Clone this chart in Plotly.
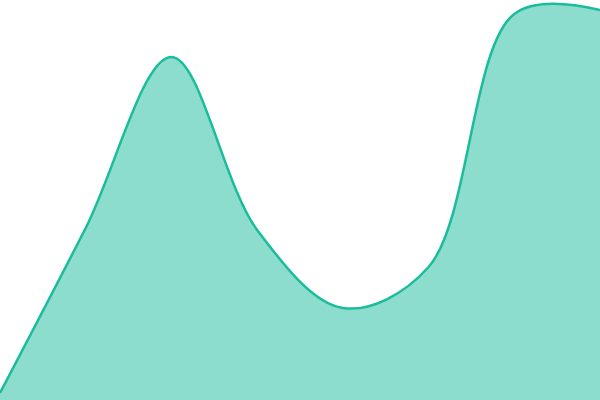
import plotly.graph_objects as go

# values (pixel height from the bottom)
x = [0, 1, 2, 3, 4, 5, 6, 7]
y = [7, 172, 343, 170, 92, 133, 386, 390]

fig = go.Figure()

fig.add_trace(go.Scatter(
    x=x, y=y, mode='lines', fill='tozeroy',
    line=dict(color='#1abc9c', width=2.5, shape='spline', smoothing=1),
    fillcolor='rgba(26, 188, 156, 0.5)',
    hoverinfo='skip'
))

fig.update_layout(
    width=600, height=400,
    margin=dict(l=0, r=0, t=0, b=0),
    plot_bgcolor='white', paper_bgcolor='white',
    showlegend=False,
    xaxis=dict(visible=False, range=[0, 7]),
    yaxis=dict(visible=False, range=[0, 400]),
)

# drop the page's default body margin so the chart sits edge to edge
fig.write_html("out.html", config={'displayModeBar': False},
               post_script="document.body.style.margin='0';document.body.style.overflow='hidden';")
